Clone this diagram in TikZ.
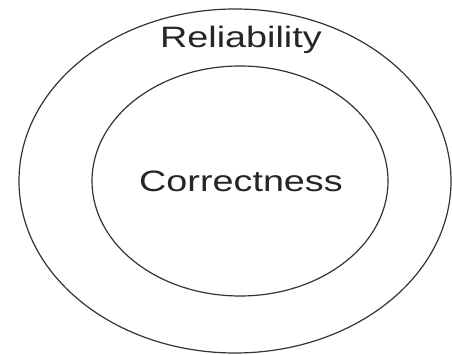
\documentclass[tikz,border=0pt]{standalone}
\usepackage{fontspec}
\setmainfont{Liberation Sans}
\usetikzlibrary{shapes.geometric}
\begin{document}
\begin{tikzpicture}[x=1pt,y=1pt,
  ring/.style={draw=black!80, line width=1.2pt, ellipse, inner sep=0pt},
  lbl/.style={anchor=base, xscale=1.28, text=black!85, font=\fontsize{29.5}{30}\selectfont}]
\useasboundingbox (0,0) rectangle (452,355);
\node[ring, minimum width=432pt, minimum height=344pt] (outer) at (235,174) {};
\node[ring, minimum width=296pt, minimum height=230pt] (inner) at (240,174) {};
\node[lbl] (rel) at (241,307) {Reliability};
\node[lbl] (cor) at (241,163) {Correctness};
\end{tikzpicture}
\end{document}
